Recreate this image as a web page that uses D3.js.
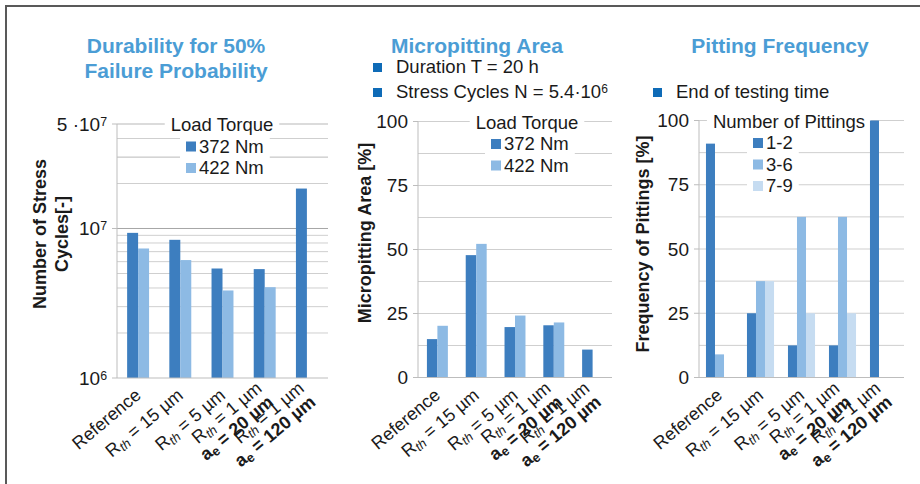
<!DOCTYPE html>
<html><head><meta charset="utf-8">
<script src="https://cdn.jsdelivr.net/npm/d3@7"></script>
<style>
body{margin:0;background:#fff;}
svg{display:block;font-family:"Liberation Sans",Arial,sans-serif;}
</style></head><body>
<svg id="chart" width="920" height="484"></svg>
<script>
// ---- data ----
const categories = [
  ["Reference"],
  ["R_th = 15 µm"],
  ["R_th = 5 µm"],
  ["R_th = 1 µm", "a_e = 20 µm"],
  ["R_th = 1 µm", "a_e = 120 µm"]
];
const torqueLabels = ["372 Nm", "422 Nm"];
const cycles372 = [9.35e6, 8.4e6, 5.4e6, 5.35e6, 1.85e7];
const cycles422 = [7.35e6, 6.15e6, 3.85e6, 4.05e6, null];
const area372 = [15, 47.8, 19.7, 20.4, 10.9];
const area422 = [20.2, 52.2, 24.2, 21.5, null];
const pittingLabels = ["1-2", "3-6", "7-9"];
const pit12 = [91, 25, 12.5, 12.5, 100];
const pit36 = [9, 37.5, 62.5, 62.5, 0];
const pit79 = [0, 37.5, 25, 25, 0];
const cycleTicks = [1e6, 1e7, 5e7];
const percentTicks = [0, 25, 50, 75, 100];
const titles = [["Durability for 50%", "Failure Probability"], ["Micropitting Area"], ["Pitting Frequency"]];
const notes = ["Duration T = 20 h", "Stress Cycles N = 5.4·10^6", "End of testing time"];

// ---- style ----
const C = {dark: "#3d7ebf", light: "#8dbae4", pale: "#c6dcf1", title: "#4b9dd5",
           note: "#0e6bb7", grid: "#cfcfcf", gridDark: "#a6a6a6", axis: "#bdbdbd", text: "#1a1a1a"};
const FS_TICK = 19;
const FS_LEG = 18.5;

const svg = d3.select("#chart");

// outer frame
svg.append("path").attr("d", "M6,490V6H930").attr("fill", "none")
  .attr("stroke", "#595959").attr("stroke-width", 2);

// Writes "X_sub" tokens as subscripts and "^n" as superscripts into a text node
function richText(text, str) {
  const re = /([A-Za-z])_(\w+)|\^(\w+)/g;
  let last = 0, m;
  const add = (s, o = {}) => {
    if (!s) return;
    const t = text.append("tspan").text(s);
    if (o.sub) t.attr("font-size", "0.72em").attr("baseline-shift", "-25%");
    if (o.sup) t.attr("font-size", "0.65em").attr("baseline-shift", "45%");
    if (o.italic) t.attr("font-style", "italic");
  };
  while ((m = re.exec(str))) {
    add(str.slice(last, m.index));
    if (m[1]) { add(m[1]); add(m[2], {sub: true, italic: m[2] === "th"}); }
    else add(m[3], {sup: true});
    last = re.lastIndex;
  }
  add(str.slice(last));
}

// panel titles
const titleX = [176, 477, 780];
titles.forEach((lines, i) => {
  lines.forEach((l, j) => {
    svg.append("text").attr("x", titleX[i]).attr("y", 53 + j * 25)
      .attr("text-anchor", "middle").attr("font-size", 21).attr("font-weight", "bold")
      .attr("fill", C.title).text(l);
  });
});

// notes with square markers
const notePos = [[373, 73], [373, 98], [653, 98]];
notes.forEach((n, i) => {
  const [x, y] = notePos[i];
  svg.append("rect").attr("x", x).attr("y", y - 10).attr("width", 9).attr("height", 9).attr("fill", C.note);
  const t = svg.append("text").attr("x", x + 23).attr("y", y).attr("font-size", 18.5).attr("fill", C.text);
  richText(t, n);
});

// category labels under an x band scale
function drawCategoryLabels(g, x, baseY) {
  categories.forEach((lines, i) => {
    const cx = x(i) + x.bandwidth() / 2;
    const lg = g.append("g").attr("transform", `translate(${cx + 4},${baseY}) rotate(-40)`);
    const lh = 18;
    lines.forEach((l, j) => {
      const t = lg.append("text").attr("x", 0).attr("y", (j - (lines.length - 1) / 2) * lh)
        .attr("text-anchor", "end").attr("font-size", 18).attr("fill", C.text)
        .attr("font-weight", j > 0 ? "bold" : "normal");
      richText(t, l);
    });
  });
}

// legend inside a plot, with white backing that hides the grid
function drawLegend(g, title, labels, colors, cx, baseY, rowH) {
  const lg = g.append("g");
  const titleBg = lg.append("rect").attr("fill", "#fff");
  const tt = lg.append("text").attr("x", cx).attr("y", baseY).attr("text-anchor", "middle")
    .attr("font-size", FS_LEG).attr("fill", C.text).text(title);
  const tb = tt.node().getBBox();
  titleBg.attr("x", tb.x - 6).attr("y", tb.y).attr("width", tb.width + 12).attr("height", tb.height);
  const itemBg = lg.append("rect").attr("fill", "#fff");
  const items = lg.append("g");
  labels.forEach((l, i) => {
    const y = baseY + rowH * (i + 1);
    items.append("rect").attr("x", cx - 36).attr("y", y - 11).attr("width", 10).attr("height", 10).attr("fill", colors[i]);
    items.append("text").attr("x", cx - 23).attr("y", y).attr("font-size", FS_LEG).attr("fill", C.text).text(l);
  });
  const ib = items.node().getBBox();
  itemBg.attr("x", ib.x - 6).attr("y", tb.y + tb.height).attr("width", ib.width + 12)
    .attr("height", ib.y + ib.height - tb.y - tb.height + 2);
}

function yLabel(lines, cx, cy) {
  lines.forEach((l, j) => {
    svg.append("text").attr("transform", `translate(${cx + j * 22 + 6},${cy}) rotate(-90)`)
      .attr("text-anchor", "middle").attr("font-size", 18).attr("font-weight", "bold")
      .attr("fill", C.text).text(l);
  });
}

// generic grouped bar panel
function barPanel({left, right, top, bottom, y, gridVals, darkVals, majorTicks, tickText,
                   series, colors, pad, legendTitle, legendLabels, legendX}) {
  const g = svg.append("g");
  const x = d3.scaleBand().domain(d3.range(categories.length)).range([left, right])
    .paddingInner(pad).paddingOuter(pad / 2);
  const xs = d3.scaleBand().domain(d3.range(series.length)).range([0, x.bandwidth()]);

  // grid
  g.selectAll(".grid").data(gridVals).join("line")
    .attr("x1", left).attr("x2", right).attr("y1", d => y(d)).attr("y2", d => y(d))
    .attr("stroke", d => darkVals.includes(d) ? C.gridDark : C.grid).attr("stroke-width", 1);
  // major ticks
  g.selectAll(".tk").data(majorTicks).join("line")
    .attr("x1", left - 5).attr("x2", left).attr("y1", d => y(d)).attr("y2", d => y(d))
    .attr("stroke", C.axis);
  // tick labels
  majorTicks.forEach(v => {
    const t = g.append("text").attr("x", left - 10).attr("y", y(v) + 6.5)
      .attr("text-anchor", "end").attr("font-size", FS_TICK).attr("fill", C.text);
    richText(t, tickText(v));
  });

  drawLegend(g, legendTitle, legendLabels, colors, legendX, top + 7, 21.5);

  // bars
  series.forEach((vals, s) => {
    g.selectAll(null).data(vals.map((v, i) => ({v, i}))).join("rect")
      .filter(d => d.v)
      .attr("x", d => x(d.i) + xs(s)).attr("width", xs.bandwidth())
      .attr("y", d => y(d.v)).attr("height", d => y.range()[0] - y(d.v))
      .attr("fill", colors[s]);
  });

  // axes lines
  g.append("line").attr("x1", left).attr("x2", left).attr("y1", top).attr("y2", bottom).attr("stroke", C.axis);
  g.append("line").attr("x1", left).attr("x2", right).attr("y1", bottom).attr("y2", bottom).attr("stroke", C.axis);

  drawCategoryLabels(g, x, 397);
}

// Panel 1: log scale durability
const yCycles = d3.scaleLog().domain([1e6, 5e7]).range([378, 124]);
const logGrid = [];
for (let d = 1e6; d <= 1e7; d *= 10) for (let k = 1; k <= 9; k++) if (d * k <= 5e7) logGrid.push(d * k);
logGrid.push(2e7, 3e7, 4e7, 5e7);
barPanel({
  left: 117, right: 328, top: 124, bottom: 378, y: yCycles,
  gridVals: logGrid.filter(v => v > 1e6), darkVals: [1e7], majorTicks: cycleTicks,
  tickText: v => v === 5e7 ? "5 ·10^7" : "10^" + Math.round(Math.log10(v)),
  series: [cycles372, cycles422], colors: [C.dark, C.light], pad: 0.48,
  legendTitle: "Load Torque", legendLabels: torqueLabels, legendX: 222
});
yLabel(["Number of Stress", "Cycles[-]"], 40, 234);

// Panel 2: micropitting area
const yArea = d3.scaleLinear().domain([0, 100]).range([377.5, 121.5]);
barPanel({
  left: 418, right: 612, top: 121.5, bottom: 377.5, y: yArea,
  gridVals: d3.range(12.5, 100.1, 12.5), darkVals: [], majorTicks: percentTicks,
  tickText: v => String(v),
  series: [area372, area422], colors: [C.dark, C.light], pad: 0.46,
  legendTitle: "Load Torque", legendLabels: torqueLabels, legendX: 527
});
yLabel(["Micropitting Area [%]"], 365, 233);

// Panel 3: pitting frequency
const yFreq = d3.scaleLinear().domain([0, 100]).range([377.5, 120.5]);
barPanel({
  left: 699, right: 904, top: 120.5, bottom: 377.5, y: yFreq,
  gridVals: d3.range(12.5, 100.1, 12.5), darkVals: [], majorTicks: percentTicks,
  tickText: v => String(v),
  series: [pit12, pit36, pit79], colors: [C.dark, C.light, C.pale], pad: 0.34,
  legendTitle: "Number of Pittings", legendLabels: pittingLabels, legendX: 789
});
yLabel(["Frequency of Pittings [%]"], 643, 244);
</script>
</body></html>
